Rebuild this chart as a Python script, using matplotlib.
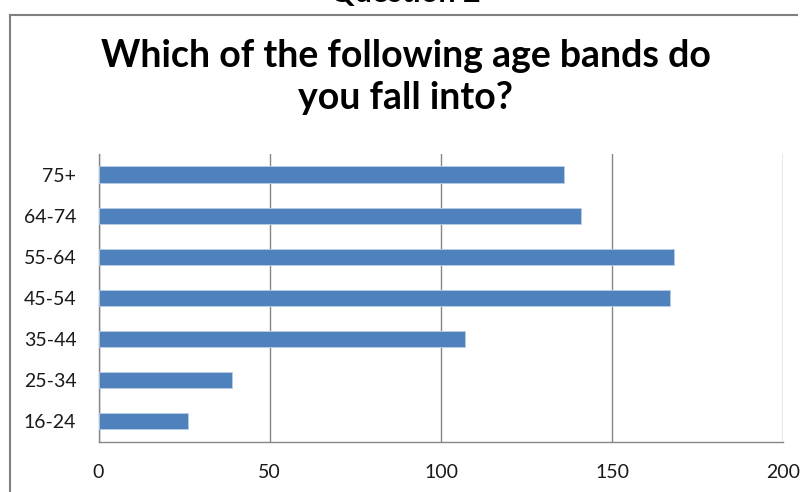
import matplotlib.pyplot as plt
from matplotlib.lines import Line2D

# survey answers
age_bands = ['16-24', '25-34', '35-44', '45-54', '55-64', '64-74', '75+']
responses = [26, 39, 107, 167, 168, 141, 136]
x_ticks = [0, 50, 100, 150, 200]

plt.rcParams['font.family'] = ['Lato', 'DejaVu Sans']

fig = plt.figure(figsize=(8.11, 4.92), dpi=100)
ax = fig.add_axes([0.1215, 0.1016, 0.8445, 0.5855])

ax.barh(range(len(age_bands)), responses, height=0.39, color='#4F81BD',
        edgecolor='#B9CDE5', linewidth=0.6, zorder=3)

ax.set_xlim(0, 200)
ax.set_ylim(-0.5, len(age_bands) - 0.5)
ax.set_xticks(x_ticks)
ax.set_yticks(range(len(age_bands)))
ax.set_yticklabels(age_bands)
ax.tick_params(axis='y', length=0, pad=16, labelsize=14, labelcolor='#1a1a1a')
ax.tick_params(axis='x', length=0, pad=16, labelsize=14, labelcolor='#1a1a1a')
ax.grid(axis='x', color='#868686', linewidth=1.0, zorder=0)

for side in ['top', 'right']:
    ax.spines[side].set_visible(False)
for side in ['left', 'bottom']:
    ax.spines[side].set_color('#868686')
    ax.spines[side].set_linewidth(1.0)

# chart area frame
fig.add_artist(Line2D([10 / 811, 10 / 811], [0, 1 - 15 / 492], transform=fig.transFigure,
                      color='#808080', linewidth=1.5))
fig.add_artist(Line2D([10 / 811, 797 / 811], [1 - 15 / 492, 1 - 15 / 492], transform=fig.transFigure,
                      color='#808080', linewidth=1.5))

# heading cut off at the top of the picture
fig.text(0.5, 1 + 7 / 492, 'Question 2', ha='center', va='center', fontsize=22,
         fontweight='bold', color='black')

fig.text(0.5, 1 - 77 / 492, 'Which of the following age bands do\nyou fall into?',
         ha='center', va='center', fontsize=27, fontweight='bold', color='black',
         linespacing=1.32)

fig.savefig('out.png', dpi=100)
